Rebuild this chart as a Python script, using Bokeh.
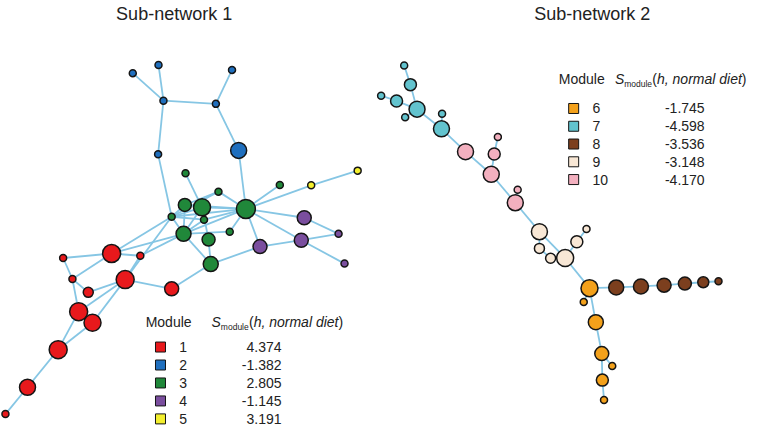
from bokeh.plotting import figure
from bokeh.models import Range1d, ColumnDataSource
from bokeh.core.properties import value
from bokeh.embed import file_html
from bokeh.resources import INLINE

# ---------------- data ----------------
titles = ["Sub-network 1", "Sub-network 2"]

# node layout (x, y in layout units), module membership, node weight
node_id = ["B1", "B2", "B3", "B4", "B5", "B6", "B7",
           "G1", "G2", "G3", "G4", "G5", "G0", "G6", "G7", "G8", "G9", "G10", "G11",
           "Y1", "Y2",
           "P1", "P2", "P3", "P4", "P5",
           "R1", "R2", "R3", "R4", "R5", "R6", "R7", "R8", "R9", "R10", "R11", "R12",
           "C1", "C2", "C3", "C4", "C5", "C6", "C7", "C8",
           "K1", "K2", "K3", "K4", "K5", "K6",
           "E1", "E2", "E3", "E4", "E5", "E6",
           "O1", "O2", "O3", "O4", "O5", "O6", "O7",
           "N1", "N2", "N3", "N4", "N5", "N6"]
node_x = [133.7, 159.7, 164.7, 234, 217.7, 159.3, 240.7,
          187, 220.3, 282.3, 186.3, 203.7, 248, 173, 205.7, 185, 231.7, 210.3, 212.5,
          314, 361,
          307, 304, 341.7, 262.3, 347.7,
          112.3, 63.3, 141.3, 72.7, 126, 173, 88.7, 79, 93, 58.3, 27.3, 5,
          408, 414.3, 384.7, 400.3, 421, 409, 446.3, 445.7,
          470, 502.7, 499, 496, 522.7, 520.3,
          544.7, 592.3, 582.5, 544.7, 556, 570.7,
          595.3, 589.5, 601.7, 607.7, 618.3, 608.3, 610,
          622.3, 647.3, 670.7, 691.7, 710.3, 725.7]
node_y = [74, 65.7, 102, 70.7, 105.3, 156.7, 152.7,
          176, 194.7, 188, 208.3, 210.7, 212.3, 220.3, 223.3, 237.7, 235.5, 243.5, 268.5,
          188.3, 173.3,
          221.3, 244.2, 237.7, 250.7, 268,
          257.7, 262.3, 260, 283.7, 284.3, 293.7, 297.3, 317, 328.3, 355.7, 394, 421.3,
          66.3, 85.7, 97, 102.3, 110.7, 119, 115.3, 130.7,
          154, 139, 156.3, 177, 192.7, 206,
          235.5, 232.7, 245.8, 252.5, 262.5, 262.3,
          293, 307.2, 327.7, 359.7, 372.3, 386.7, 407,
          292.3, 291.3, 290, 288.3, 287, 286]
node_module = [2, 2, 2, 2, 2, 2, 2,
               3, 3, 3, 3, 3, 3, 3, 3, 3, 3, 3, 3,
               5, 5,
               4, 4, 4, 4, 4,
               1, 1, 1, 1, 1, 1, 1, 1, 1, 1, 1, 1,
               7, 7, 7, 7, 7, 7, 7, 7,
               10, 10, 10, 10, 10, 10,
               9, 9, 9, 9, 9, 9,
               6, 6, 6, 6, 6, 6, 6,
               8, 8, 8, 8, 8, 8]
node_weight = [6, 6, 6, 6, 6, 6, 15,
               6, 6, 6, 12, 16, 18, 6, 6, 14, 6, 12, 14,
               6, 6,
               13, 13, 6, 13, 6,
               17, 6, 6, 6, 17, 13, 9, 17, 16, 17, 15, 6,
               6, 11, 6, 11, 15, 6, 6, 15,
               15, 6, 11, 15, 6, 15,
               15, 6, 11, 9, 9, 16,
               16, 6, 14, 13, 6, 11, 6,
               14, 14, 13, 12, 10, 6]

edges = [("B1", "B3"), ("B2", "B3"), ("B3", "B5"), ("B4", "B5"), ("B5", "B7"), ("B3", "B6"),
         ("B6", "G6"), ("B7", "G0"),
         ("G1", "G5"), ("G2", "G0"), ("G2", "G4"), ("G2", "G6"), ("G3", "G0"),
         ("G0", "Y1"), ("Y1", "Y2"),
         ("G0", "G5"), ("G0", "G4"), ("G0", "G6"), ("G0", "G7"), ("G0", "G8"), ("G0", "G9"),
         ("G0", "P1"), ("G0", "P2"), ("G0", "P4"),
         ("G4", "G6"), ("G4", "G8"), ("G5", "G6"), ("G5", "G8"), ("G5", "G10"), ("G6", "G7"),
         ("G6", "G8"), ("G7", "G8"), ("G8", "G9"), ("G8", "G11"), ("G10", "G11"),
         ("G11", "P4"), ("G11", "R6"),
         ("P1", "P3"), ("P2", "P3"), ("P2", "P5"), ("P2", "P4"),
         ("R1", "G8"), ("R1", "G6"), ("R3", "G8"), ("R5", "G6"), ("R5", "R3"),
         ("R1", "R2"), ("R1", "R3"), ("R1", "R4"), ("R2", "R4"), ("R4", "R7"), ("R4", "R8"),
         ("R7", "R5"), ("R5", "R6"), ("R5", "R8"), ("R5", "R9"), ("R8", "R10"), ("R9", "R10"),
         ("R10", "R11"), ("R11", "R12"),
         ("C1", "C2"), ("C2", "C5"), ("C3", "C4"), ("C4", "C5"), ("C6", "C5"), ("C5", "C8"),
         ("C7", "C8"), ("C8", "K1"), ("K1", "K4"), ("K2", "K3"), ("K3", "K4"), ("K4", "K6"),
         ("K5", "K6"), ("K6", "E1"), ("E1", "E4"), ("E1", "E6"), ("E4", "E5"), ("E5", "E6"),
         ("E2", "E3"), ("E3", "E6"), ("E6", "O1"), ("O1", "O2"),
         ("O1", "N1"), ("N1", "N2"), ("N2", "N3"), ("N3", "N4"), ("N4", "N5"), ("N5", "N6"),
         ("O1", "O3"), ("O3", "O4"), ("O4", "O5"), ("O4", "O6"), ("O6", "O7")]

legend1_modules = ["1", "2", "3", "4", "5"]
legend1_values = ["4.374", "-1.382", "2.805", "-1.145", "3.191"]
legend2_modules = ["6", "7", "8", "9", "10"]
legend2_values = ["-1.745", "-4.598", "-3.536", "-3.148", "-4.170"]

module_colors = {1: "#E8191C", 2: "#1F6FBE", 3: "#20883A", 4: "#7A4E9E", 5: "#F3EF2E",
                 6: "#F3A11B", 7: "#62C3CE", 8: "#7C3F1E", 9: "#F8E7D5", 10: "#F3B0BF"}

# ---------------- figure ----------------
FONT = value("Liberation Sans")
EDGE = "#86C6E4"

p = figure(width=747, height=429, x_range=Range1d(0, 755), y_range=Range1d(437, 0),
           output_backend="svg", toolbar_location=None, min_border=0,
           x_axis_location=None, y_axis_location=None)
p.grid.visible = False
p.outline_line_color = None
p.background_fill_color = "white"

pos = {n: (x, y) for n, x, y in zip(node_id, node_x, node_y)}
x0 = [pos[a][0] for a, b in edges]
y0 = [pos[a][1] for a, b in edges]
x1 = [pos[b][0] for a, b in edges]
y1 = [pos[b][1] for a, b in edges]
p.segment(x0=x0, y0=y0, x1=x1, y1=y1, line_color=EDGE, line_width=1.8)

nsrc = ColumnDataSource(dict(x=node_x, y=node_y, size=[w + 1 for w in node_weight],
                             color=[module_colors[m] for m in node_module]))
p.scatter("x", "y", size="size", source=nsrc, marker="circle", fill_color="color",
          line_color="#151515", line_width=1.5)

# titles
p.text(x=[175.5, 598], y=[14, 14], text=titles, text_font=FONT, text_font_size="18px",
       text_align="center", text_baseline="middle", text_color="#222222")


def draw_legend(hx, hy, sx, row0, dy, mods, vals, val_right):
    # header
    p.text(x=[hx], y=[hy], text=["Module"], text_font=FONT, text_font_size="14px",
           text_align="left", text_baseline="middle", text_color="#222222")
    pieces = [("S", 0, 0, "14px", "italic"), ("module", 9.3, 5, "8.5px", "normal"),
              ("(", 37.4, 0, "14px", "normal"), ("h, normal diet", 42.1, 0, "14px", "italic"),
              (")", 126.9, 0, "14px", "normal")]
    for t, xo, yo, fs, st in pieces:
        p.text(x=[sx], y=[hy], text=[t], x_offset=xo, y_offset=yo, text_font=FONT,
               text_font_size=fs, text_font_style=st, text_align="left",
               text_baseline="middle", text_color="#222222")
    ys = [row0 + i * dy for i in range(len(mods))]
    cols = [module_colors[int(m)] for m in mods]
    p.scatter(x=[hx + 15] * len(mods), y=ys, marker="square", size=10, fill_color=cols,
              line_color="#151515", line_width=1)
    p.text(x=[hx + 34] * len(mods), y=ys, text=mods, text_font=FONT, text_font_size="14px",
           text_align="left", text_baseline="middle", text_color="#222222")
    p.text(x=[val_right] * len(vals), y=ys, text=vals, text_font=FONT, text_font_size="14px",
           text_align="right", text_baseline="middle", text_color="#222222")


draw_legend(146.7, 327, 213.3, 353, 18.3, legend1_modules, legend1_values, 284)
draw_legend(564.3, 80, 621, 110, 18.1, legend2_modules, legend2_values, 711.7)

open("out.html", "w").write(file_html(p, INLINE))
